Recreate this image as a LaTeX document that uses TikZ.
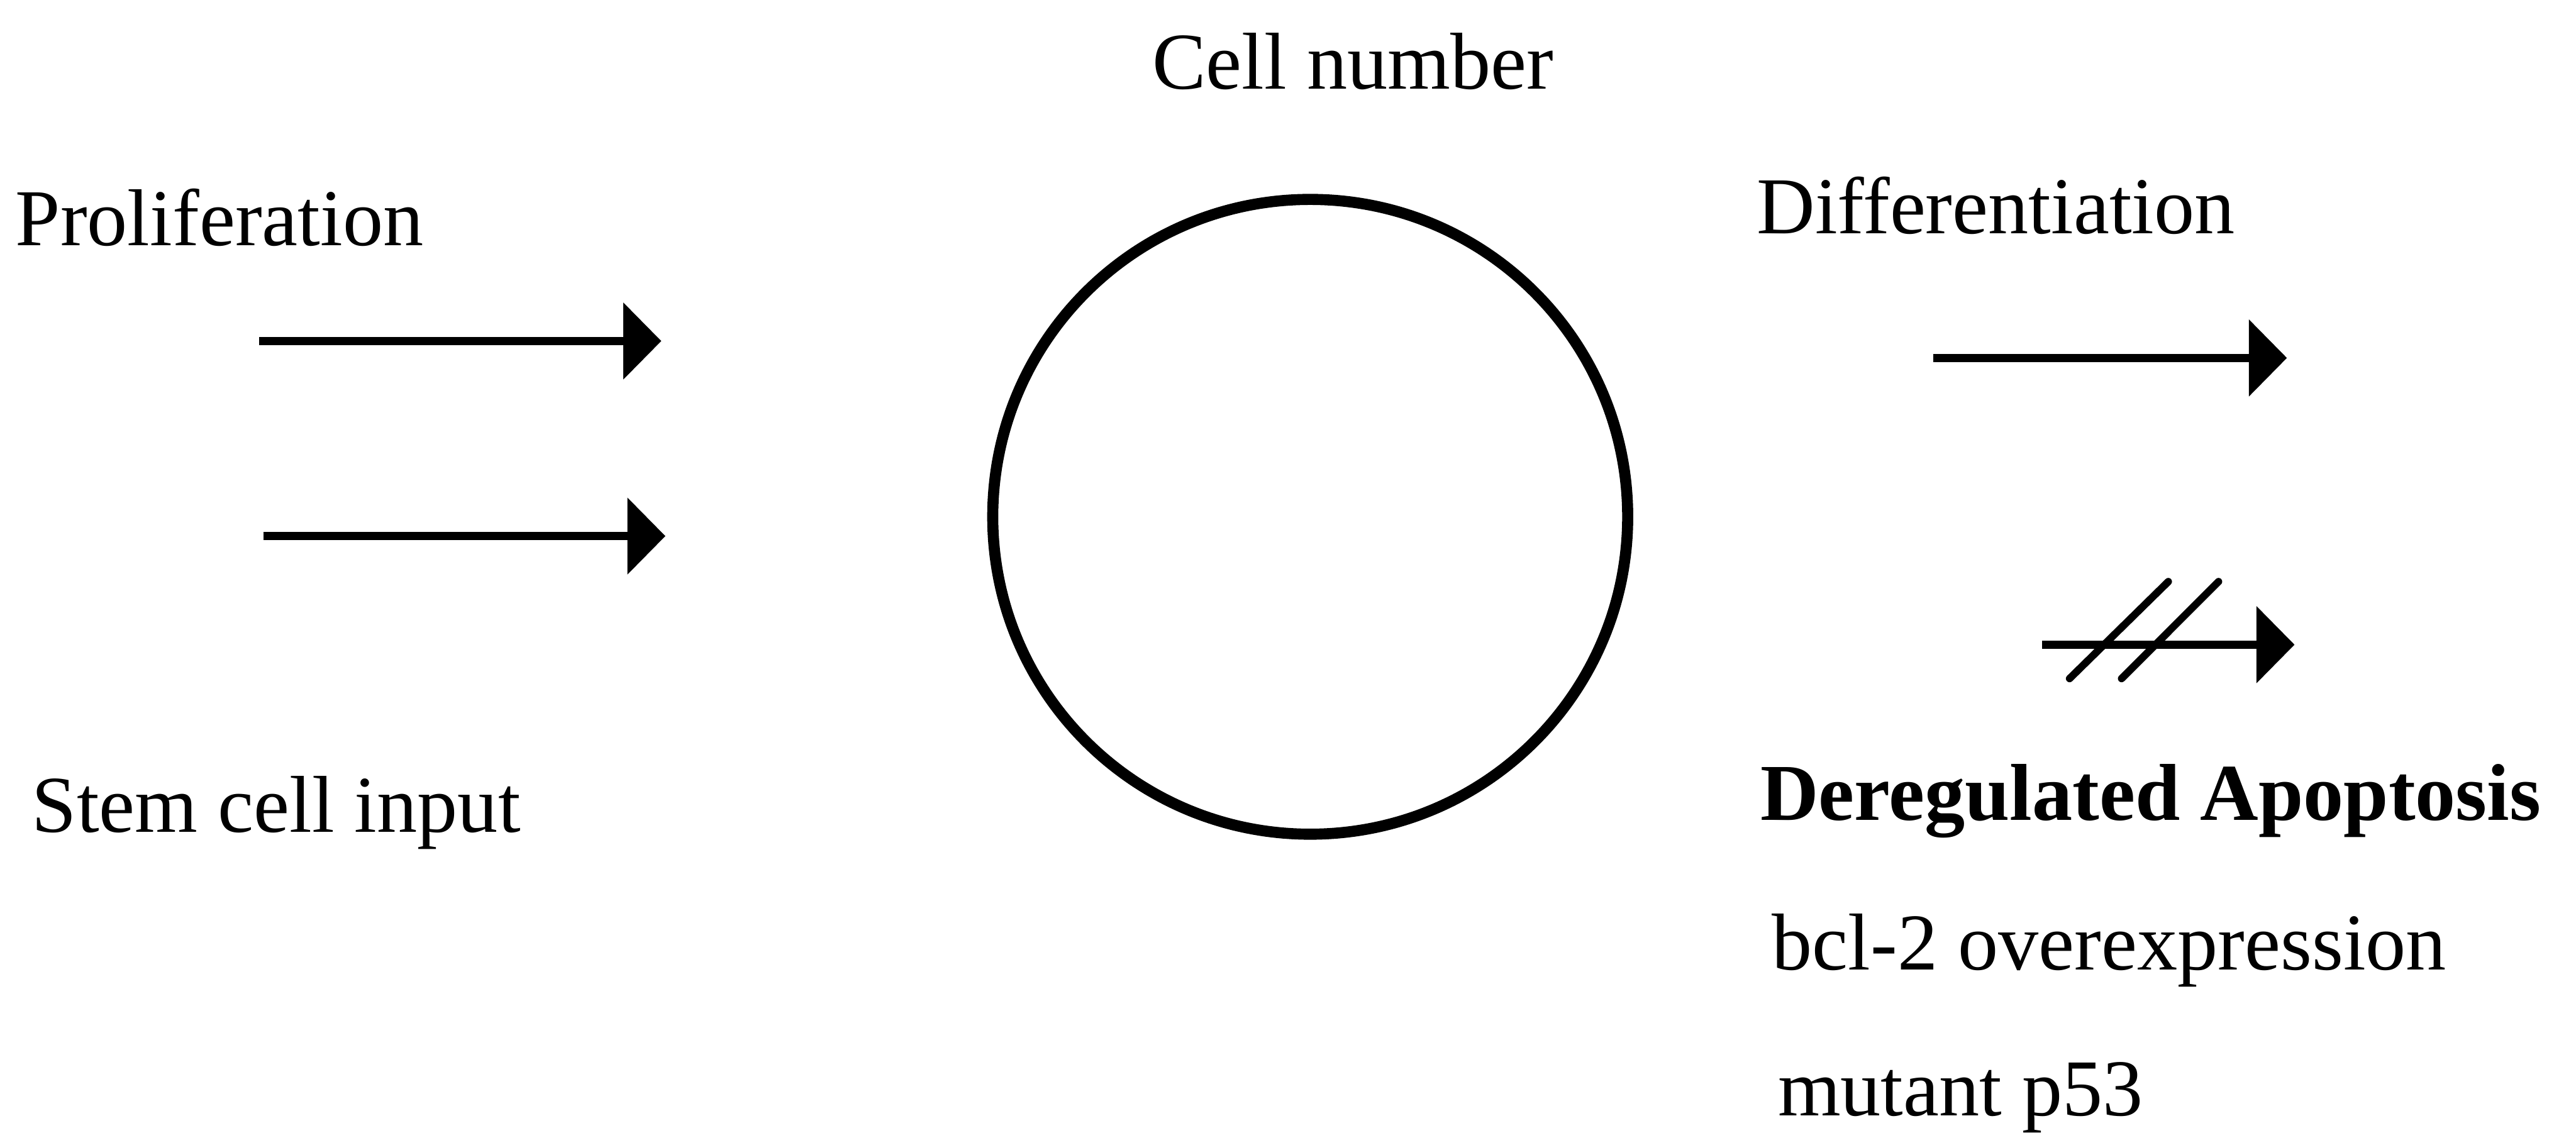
\documentclass[tikz,border=0pt]{standalone}
\usepackage{fontspec}
\setmainfont{Liberation Serif}
\usetikzlibrary{arrows.meta}

\begin{document}
\begin{tikzpicture}[
    lbl/.style={anchor=base west, inner sep=0pt, font=\fontsize{39.3pt}{47pt}\selectfont},
    pool/.style={circle, draw, line width=5.4pt, minimum size=10.87cm, inner sep=0pt},
    flow/.style={draw, line width=4pt, -{Triangle[length=0.65cm, width=1.32cm, line width=0pt]}},
    cut/.style={draw, line width=3.6pt, line cap=round}]

    \useasboundingbox (0,0) rectangle (44.1,19.48);

    % central compartment
    \node [pool] (cells) at (22.43,10.63) {};
    \node [lbl] (count) at (19.72,17.96) {Cell number};

    % inputs
    \node [lbl] (prolif) at (0.26,15.28) {Proliferation};
    \node [lbl] (stem) at (0.54,5.23) {Stem cell input};
    \coordinate (in1a) at (4.44,13.64);
    \coordinate (in1b) at (11.32,13.64);
    \coordinate (in2a) at (4.51,10.30);
    \coordinate (in2b) at (11.39,10.30);
    \path [flow] (in1a) -- (in1b);
    \path [flow] (in2a) -- (in2b);

    % outputs
    \node [lbl] (diff) at (30.07,15.48) {Differentiation};
    \node [lbl, font=\fontsize{39.3pt}{47pt}\selectfont\bfseries] (apop) at (30.13,5.44) {Deregulated Apoptosis};
    \node [lbl] (bcl) at (30.33,2.87) {bcl-2 overexpression};
    \node [lbl] (p53) at (30.43,0.37) {mutant p53};
    \coordinate (out1a) at (33.10,13.35);
    \coordinate (out1b) at (39.15,13.35);
    \coordinate (out2a) at (34.96,8.44);
    \coordinate (out2b) at (39.28,8.44);
    \path [flow] (out1a) -- (out1b);
    \path [flow] (out2a) -- (out2b);

    % block marks
    \path [cut] (35.43,7.86) -- (37.12,9.52);
    \path [cut] (36.32,7.86) -- (37.98,9.52);
\end{tikzpicture}
\end{document}
